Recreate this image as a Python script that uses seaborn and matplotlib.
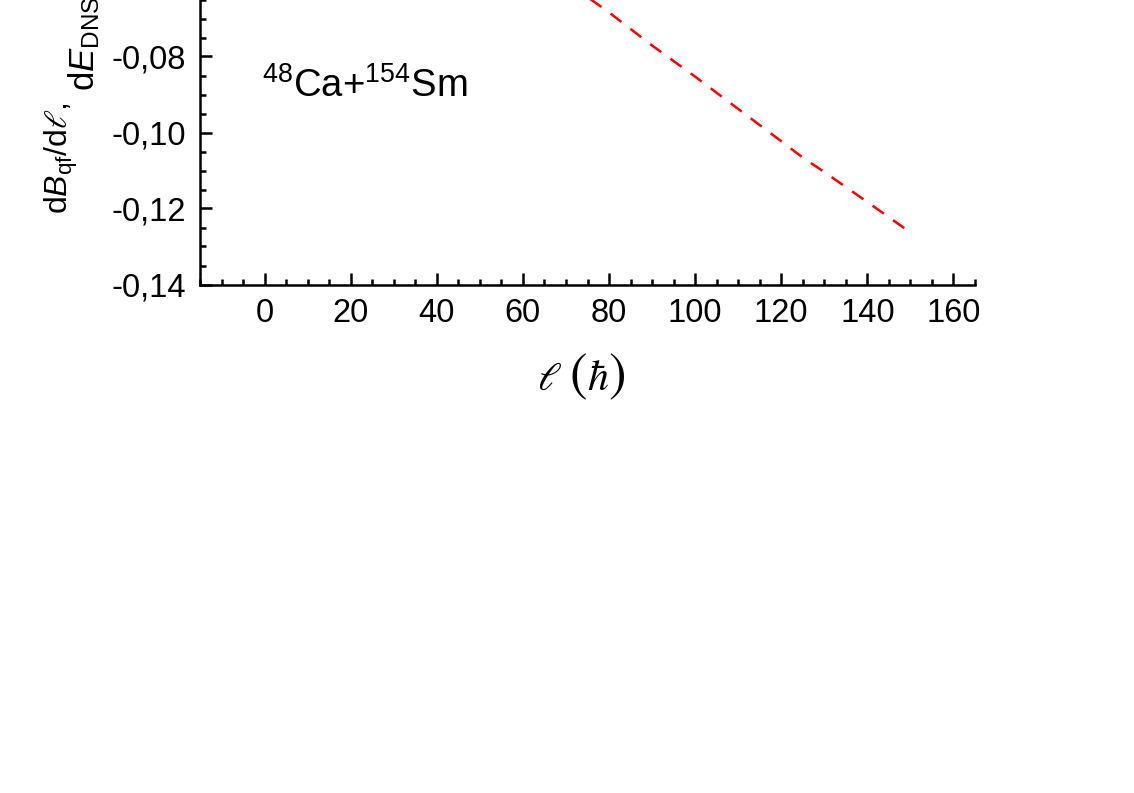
import numpy as np
import pandas as pd
import seaborn as sns
import matplotlib.pyplot as plt
from matplotlib.ticker import MultipleLocator, FuncFormatter

# angular momentum values and derivative
ell = [70, 80, 90, 100, 110, 120, 125, 130, 140, 150]
dE_dl = [-0.0603, -0.0684, -0.0771, -0.0853, -0.0938, -0.1023, -0.1066, -0.1104, -0.1183, -0.1263]

system_label = r'$^{48}$Ca+$^{154}$Sm'
x_ticks = [0, 20, 40, 60, 80, 100, 120, 140, 160]

df = pd.DataFrame({'ell': ell, 'dE': dE_dl})

sns.set_theme(style='ticks')
plt.rcParams['font.family'] = ['Liberation Sans', 'DejaVu Sans']
plt.rcParams['text.color'] = 'black'
plt.rcParams['mathtext.fontset'] = 'custom'
plt.rcParams['mathtext.rm'] = 'Liberation Sans'
plt.rcParams['mathtext.it'] = 'Liberation Sans:italic'
plt.rcParams['mathtext.bf'] = 'Liberation Sans:bold'
plt.rcParams['mathtext.sf'] = 'STIXGeneral:italic'
plt.rcParams['mathtext.fallback'] = 'stix'

fig = plt.figure(figsize=(11.34, 7.93), dpi=100)
W, H = 1134, 793
# axes extends above the figure: the top of the original chart is cropped
ax = fig.add_axes([200 / W, (H - 284.5) / H, 775 / W, 532 / H])

sns.lineplot(data=df, x='ell', y='dE', ax=ax, color='#ff0000', linewidth=1.8,
             dashes=False, linestyle=(0, (5.5, 4.5)))

ax.set_xlim(-15, 165)
ax.set_ylim(-0.14, 0.0)
ax.set_xticks(x_ticks)
ax.xaxis.set_minor_locator(MultipleLocator(5))
ax.yaxis.set_major_locator(MultipleLocator(0.02))
ax.yaxis.set_minor_locator(MultipleLocator(0.005))


def comma_fmt(v, p):
    # labels above the cropped top edge are not shown
    if v > -0.07:
        return ''
    return ('%.2f' % v).replace('.', ',')


ax.yaxis.set_major_formatter(FuncFormatter(comma_fmt))

for s in ['top', 'right']:
    ax.spines[s].set_visible(False)
for s in ['left', 'bottom']:
    ax.spines[s].set_linewidth(1.8)
    ax.spines[s].set_color('black')

ax.tick_params(which='major', direction='in', length=8.5, width=1.8, colors='black',
               labelsize=23.5, pad=10)
ax.tick_params(which='minor', direction='in', length=4.5, width=1.8, colors='black')

ax.set_xlabel('')
ax.set_ylabel('')

# x label: script l with large parentheses around hbar
base = (H - 390) / H
fig.text(537 / W, base, r'$\ell$', fontsize=29, math_fontfamily='stix', va='baseline')
fig.text(569 / W, base, '(', fontsize=38, family='STIXGeneral', va='baseline')
fig.text(587 / W, base, r'$\hbar$', fontsize=30, math_fontfamily='stix', va='baseline')
fig.text(608 / W, base, ')', fontsize=38, family='STIXGeneral', va='baseline')

# y label, drawn in two pieces as in the original (second piece sits on a shifted baseline)
fig.text(43 / W, (H - 214) / H, r'd$B_{\rm qf}$/d$\mathsf{\ell}$,',
         rotation=90, ha='left', va='bottom', fontsize=23)
fig.text(66 / W, (H - 91) / H, r'd$E_{\rm DNS}$/d$\mathsf{\ell}$ (MeV/$\hbar$)',
         rotation=90, ha='left', va='bottom', fontsize=25)

fig.text(262 / W, (H - 97) / H, system_label, fontsize=27.5, va='baseline', ha='left')

plt.savefig('out.png', dpi=100)
plt.clf()
